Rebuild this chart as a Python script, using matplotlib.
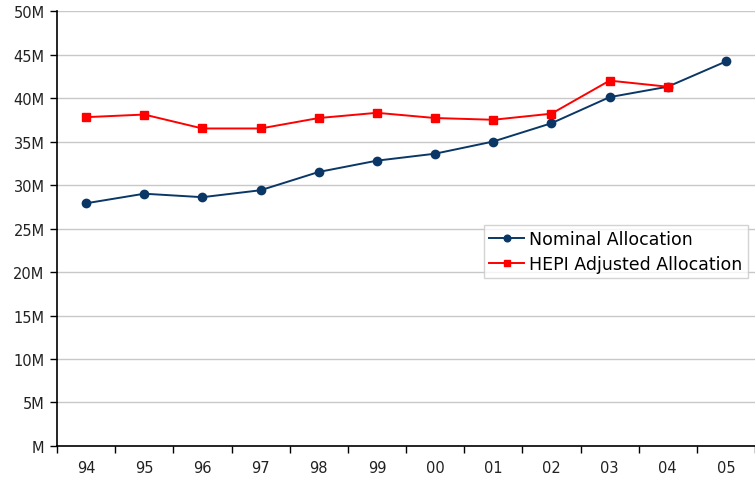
import matplotlib.pyplot as plt
from matplotlib.ticker import FuncFormatter, MultipleLocator, FixedLocator

# --------------------------------------------------
# DATA (millions)
# --------------------------------------------------
years = ["94", "95", "96", "97", "98", "99", "00", "01", "02", "03", "04", "05"]
nominal = [27.9, 29.0, 28.6, 29.4, 31.5, 32.8, 33.6, 35.0, 37.1, 40.1, 41.3, 44.2]
hepi = [37.8, 38.1, 36.5, 36.5, 37.7, 38.3, 37.7, 37.5, 38.2, 42.0, 41.3]

# --------------------------------------------------
# FIGURE
# --------------------------------------------------
fig = plt.figure(figsize=(7.55, 4.81), dpi=100)
ax = fig.add_axes([0.0755, 0.0707, 0.9245, 0.9043])

x_nom = list(range(len(nominal)))
x_hepi = list(range(len(hepi)))

ax.plot(x_nom, nominal, color="#0a3766", marker="o", markersize=6,
        linewidth=1.4, label="Nominal Allocation", zorder=3)
ax.plot(x_hepi, hepi, color="#ff0000", marker="s", markersize=6,
        linewidth=1.4, label="HEPI Adjusted Allocation", zorder=3)

ax.set_ylim(0, 50)
ax.set_xlim(-0.5, len(years) - 0.5)
ax.yaxis.set_major_locator(MultipleLocator(5))
ax.yaxis.set_major_formatter(FuncFormatter(
    lambda v, p: "M" if v == 0 else f"{int(v)}M"))

ax.set_xticks(x_nom)
ax.set_xticklabels(years)
ax.xaxis.set_minor_locator(FixedLocator([i - 0.5 for i in range(len(years) + 1)]))
ax.tick_params(axis="x", which="major", length=0, pad=10)
ax.tick_params(axis="x", which="minor", length=5, width=1, color="black",
               direction="out")
ax.tick_params(axis="y", length=5, width=1, direction="out", pad=4)
ax.tick_params(labelsize=10.5, labelcolor="#222222")

ax.grid(axis="y", color="#c8c8c8", linewidth=1)
ax.set_axisbelow(True)
for side in ["top", "right"]:
    ax.spines[side].set_visible(False)
ax.spines["left"].set_linewidth(1.2)
ax.spines["bottom"].set_linewidth(1.2)

leg = ax.legend(loc="upper left", bbox_to_anchor=(0.612, 0.508),
                fontsize=12.5, frameon=True, fancybox=False, borderpad=0.3,
                handlelength=2.0, handletextpad=0.3, labelspacing=0.4,
                borderaxespad=0, markerscale=0.8)
leg.get_frame().set_edgecolor("#c8c8c8")
leg.get_frame().set_linewidth(1)

plt.savefig("out.png", dpi=100)
